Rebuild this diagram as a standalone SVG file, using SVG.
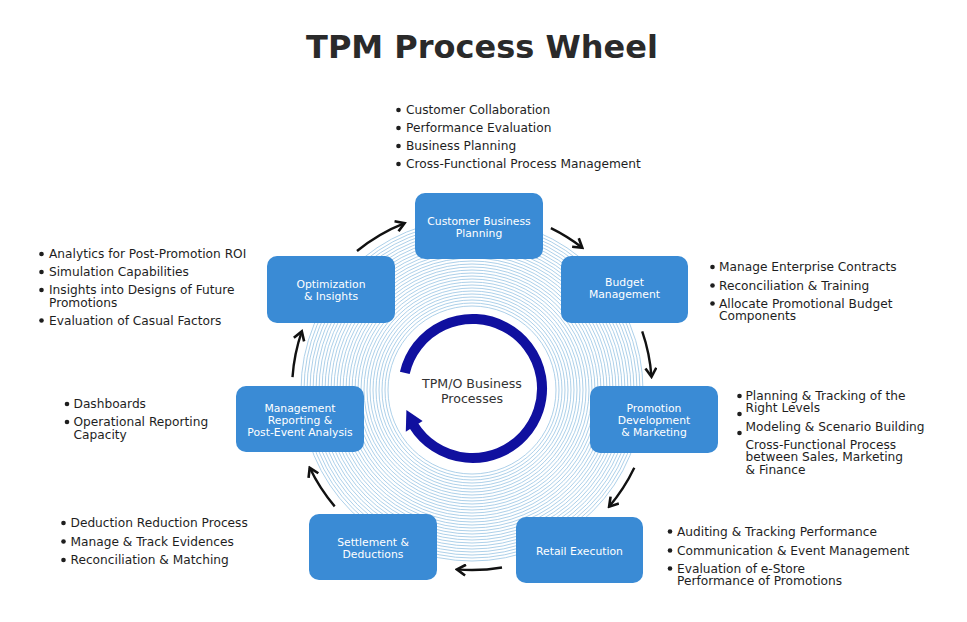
<svg xmlns="http://www.w3.org/2000/svg" width="967" height="622" viewBox="0 0 967 622">
<style>
.title{font-family:"DejaVu Sans",sans-serif;font-weight:bold;font-size:32px;fill:#2a2a2a;text-anchor:middle}
.box{fill:#3a8bd5}
.bt{font-family:"DejaVu Sans",sans-serif;font-size:10.8px;fill:#ffffff;text-anchor:middle}
.lt{font-family:"DejaVu Sans",sans-serif;font-size:12.2px;fill:#1e1e1e}
.bul{fill:#1e1e1e}
.ring{fill:none;stroke:#9ec7e5;stroke-width:0.85}
.conn{fill:none;stroke:#111111;stroke-width:2.4;marker-end:url(#chev)}
.ct{font-family:"DejaVu Sans",sans-serif;font-size:12.6px;fill:#333333;text-anchor:middle}
</style>
<defs>
<marker id="chev" viewBox="0 0 12 12" refX="10" refY="6" markerWidth="13" markerHeight="13" markerUnits="userSpaceOnUse" orient="auto">
<path d="M2,1 L10,6 L2,11" fill="none" stroke="#111111" stroke-width="2.4"/>
</marker>
</defs>
<rect width="967" height="622" fill="#ffffff"/>
<text class="title" x="482" y="58">TPM Process Wheel</text>

<g id="rings">
<circle class="ring" cx="472" cy="390" r="84"/><circle class="ring" cx="472" cy="390" r="87"/><circle class="ring" cx="472" cy="390" r="90"/><circle class="ring" cx="472" cy="390" r="93"/><circle class="ring" cx="472" cy="390" r="96"/><circle class="ring" cx="472" cy="390" r="99"/><circle class="ring" cx="472" cy="390" r="102"/><circle class="ring" cx="472" cy="390" r="105"/><circle class="ring" cx="472" cy="390" r="108"/><circle class="ring" cx="472" cy="390" r="111"/><circle class="ring" cx="472" cy="390" r="114"/><circle class="ring" cx="472" cy="390" r="117"/><circle class="ring" cx="472" cy="390" r="120"/><circle class="ring" cx="472" cy="390" r="123"/><circle class="ring" cx="472" cy="390" r="126"/><circle class="ring" cx="472" cy="390" r="129"/><circle class="ring" cx="472" cy="390" r="132"/><circle class="ring" cx="472" cy="390" r="135"/><circle class="ring" cx="472" cy="390" r="138"/><circle class="ring" cx="472" cy="390" r="141"/><circle class="ring" cx="472" cy="390" r="144"/><circle class="ring" cx="472" cy="390" r="147"/><circle class="ring" cx="472" cy="390" r="150"/><circle class="ring" cx="472" cy="390" r="153"/><circle class="ring" cx="472" cy="390" r="156"/><circle class="ring" cx="472" cy="390" r="159"/><circle class="ring" cx="472" cy="390" r="162"/><circle class="ring" cx="472" cy="390" r="165"/><circle class="ring" cx="472" cy="390" r="168"/><circle class="ring" cx="472" cy="390" r="171"/>
</g>

<g id="center">
<path d="M404.8,372.9 A69.5,69.5 0 1 1 413.6,425.3" fill="none" stroke="#10109f" stroke-width="10"/>
<polygon points="406.4,410 422.6,420.9 405.8,431.8" fill="#10109f"/>
<text class="ct" x="472" y="388">TPM/O Business</text>
<text class="ct" x="472" y="403">Processes</text>
</g>

<g id="connectors">
<path class="conn" d="M357,251 A180,180 0 0 1 404.6,223.1"/>
<path class="conn" d="M550.9,228.2 A180,180 0 0 1 582.3,247.8"/>
<path class="conn" d="M642.2,331.4 A180,180 0 0 1 651.5,376.8"/>
<path class="conn" d="M634.3,467.8 A180,180 0 0 1 609.1,506.7"/>
<path class="conn" d="M502,567.5 A180,180 0 0 1 456.9,569.4"/>
<path class="conn" d="M334.7,506.4 A180,180 0 0 1 309.7,467.8"/>
<path class="conn" d="M292.5,377.1 A180,180 0 0 1 301.8,331.4"/>
</g>

<g id="node-customer">
<rect class="box" x="415" y="193" width="128" height="66" rx="10"/>
<text class="bt" x="479" y="225">Customer Business</text>
<text class="bt" x="479" y="237">Planning</text>
<circle class="bul" cx="398.5" cy="110" r="2.3"/><text class="lt" x="406" y="114">Customer Collaboration</text>
<circle class="bul" cx="398.5" cy="128" r="2.3"/><text class="lt" x="406" y="132">Performance Evaluation</text>
<circle class="bul" cx="398.5" cy="146" r="2.3"/><text class="lt" x="406" y="150">Business Planning</text>
<circle class="bul" cx="398.5" cy="164" r="2.3"/><text class="lt" x="406" y="168">Cross-Functional Process Management</text>
</g>

<g id="node-budget">
<rect class="box" x="561" y="256" width="127" height="67" rx="10"/>
<text class="bt" x="624.5" y="286">Budget</text>
<text class="bt" x="624.5" y="298">Management</text>
<circle class="bul" cx="712.5" cy="267" r="2.3"/><text class="lt" x="719" y="271">Manage Enterprise Contracts</text>
<circle class="bul" cx="712.5" cy="285.5" r="2.3"/><text class="lt" x="719" y="289.5">Reconciliation &amp; Training</text>
<circle class="bul" cx="712.5" cy="303.5" r="2.3"/><text class="lt" x="719" y="307.5">Allocate Promotional Budget</text>
<text class="lt" x="719" y="320">Components</text>
</g>

<g id="node-promotion">
<rect class="box" x="590" y="386" width="128" height="67" rx="10"/>
<text class="bt" x="654" y="412">Promotion</text>
<text class="bt" x="654" y="424">Development</text>
<text class="bt" x="654" y="436">&amp; Marketing</text>
<circle class="bul" cx="739.5" cy="396" r="2.3"/><text class="lt" x="745.5" y="399.5">Planning &amp; Tracking of the</text>
<text class="lt" x="745.5" y="412">Right Levels</text>
<circle class="bul" cx="739.5" cy="414" r="2.3"/><text class="lt" x="745.5" y="430.5">Modeling &amp; Scenario Building</text>
<circle class="bul" cx="739.5" cy="433" r="2.3"/><text class="lt" x="745.5" y="448.5">Cross-Functional Process</text>
<text class="lt" x="745.5" y="461">between Sales, Marketing</text>
<text class="lt" x="745.5" y="473.5">&amp; Finance</text>
</g>

<g id="node-retail">
<rect class="box" x="516" y="517" width="127" height="66" rx="10"/>
<text class="bt" x="579.5" y="555">Retail Execution</text>
<circle class="bul" cx="670" cy="531.5" r="2.3"/><text class="lt" x="677" y="535.5">Auditing &amp; Tracking Performance</text>
<circle class="bul" cx="670" cy="550.5" r="2.3"/><text class="lt" x="677" y="554.5">Communication &amp; Event Management</text>
<circle class="bul" cx="670" cy="568.5" r="2.3"/><text class="lt" x="677" y="572.5">Evaluation of e-Store</text>
<text class="lt" x="677" y="585">Performance of Promotions</text>
</g>

<g id="node-settlement">
<rect class="box" x="309" y="514" width="128" height="66" rx="10"/>
<text class="bt" x="373" y="546">Settlement &amp;</text>
<text class="bt" x="373" y="558">Deductions</text>
<circle class="bul" cx="63.5" cy="523" r="2.3"/><text class="lt" x="70.5" y="527">Deduction Reduction Process</text>
<circle class="bul" cx="63.5" cy="541.5" r="2.3"/><text class="lt" x="70.5" y="545.5">Manage &amp; Track Evidences</text>
<circle class="bul" cx="63.5" cy="560" r="2.3"/><text class="lt" x="70.5" y="564">Reconciliation &amp; Matching</text>
</g>

<g id="node-reporting">
<rect class="box" x="236" y="386" width="128" height="66" rx="10"/>
<text class="bt" x="300" y="412">Management</text>
<text class="bt" x="300" y="423.5">Reporting &amp;</text>
<text class="bt" x="300" y="436">Post-Event Analysis</text>
<circle class="bul" cx="67" cy="404" r="2.3"/><text class="lt" x="73.5" y="408">Dashboards</text>
<circle class="bul" cx="67" cy="422" r="2.3"/><text class="lt" x="73.5" y="426">Operational Reporting</text>
<text class="lt" x="73.5" y="438.5">Capacity</text>
</g>

<g id="node-optimization">
<rect class="box" x="267" y="256" width="128" height="67" rx="10"/>
<text class="bt" x="331" y="288">Optimization</text>
<text class="bt" x="331" y="300">&amp; Insights</text>
<circle class="bul" cx="41.5" cy="254" r="2.3"/><text class="lt" x="49" y="258">Analytics for Post-Promotion ROI</text>
<circle class="bul" cx="41.5" cy="272" r="2.3"/><text class="lt" x="49" y="276">Simulation Capabilities</text>
<circle class="bul" cx="41.5" cy="290" r="2.3"/><text class="lt" x="49" y="294">Insights into Designs of Future</text>
<text class="lt" x="49" y="307">Promotions</text>
<circle class="bul" cx="41.5" cy="320.5" r="2.3"/><text class="lt" x="49" y="324.5">Evaluation of Casual Factors</text>
</g>
</svg>
